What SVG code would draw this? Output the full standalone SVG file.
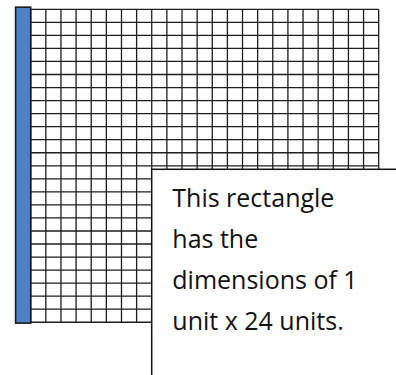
<svg xmlns="http://www.w3.org/2000/svg" width="396" height="375" viewBox="0 0 396 375">
<style>
.grid{stroke:#1e1e1e;stroke-width:1.3;fill:none}
.strip{fill:#4f81c6;stroke:#1a1a1a;stroke-width:1.6}
.box{fill:#ffffff;stroke:#111;stroke-width:1.5}
.t{font-family:"Open Sans","Liberation Sans",sans-serif;font-size:25px;fill:#111}
</style>
<rect width="396" height="375" fill="#ffffff"/>
<g id="grid">
<path class="grid" d="M30.7 9.3V322.3M45.83 9.3V322.3M60.96 9.3V322.3M76.09 9.3V322.3M91.22 9.3V322.3M106.35 9.3V322.3M121.48 9.3V322.3M136.61 9.3V322.3M151.74 9.3V322.3M166.87 9.3V322.3M182 9.3V322.3M197.13 9.3V322.3M212.26 9.3V322.3M227.39 9.3V322.3M242.52 9.3V322.3M257.65 9.3V322.3M272.78 9.3V322.3M287.91 9.3V322.3M303.04 9.3V322.3M318.17 9.3V322.3M333.3 9.3V322.3M348.43 9.3V322.3M363.56 9.3V322.3M378.69 9.3V322.3"/>
<path class="grid" d="M30.7 9.3H378.69M30.7 22.34H378.69M30.7 35.38H378.69M30.7 48.42H378.69M30.7 61.46H378.69M30.7 74.5H378.69M30.7 87.54H378.69M30.7 100.58H378.69M30.7 113.62H378.69M30.7 126.66H378.69M30.7 139.7H378.69M30.7 152.74H378.69M30.7 165.78H378.69M30.7 178.82H378.69M30.7 191.86H378.69M30.7 204.9H378.69M30.7 217.94H378.69M30.7 230.98H378.69M30.7 244.02H378.69M30.7 257.06H378.69M30.7 270.1H378.69M30.7 283.14H378.69M30.7 296.18H378.69M30.7 309.22H378.69M30.7 322.26H378.69"/>
</g>
<g id="strip">
<rect class="strip" x="15.6" y="7.2" width="15.1" height="315.9"/>
</g>
<g id="callout">
<rect class="box" x="151.7" y="169.3" width="260" height="220"/>
<text class="t" x="172.3" y="207">This rectangle</text>
<text class="t" x="172.3" y="248">has the</text>
<text class="t" x="172.3" y="289">dimensions of 1</text>
<text class="t" x="172.3" y="330">unit x 24 units.</text>
</g>
</svg>
